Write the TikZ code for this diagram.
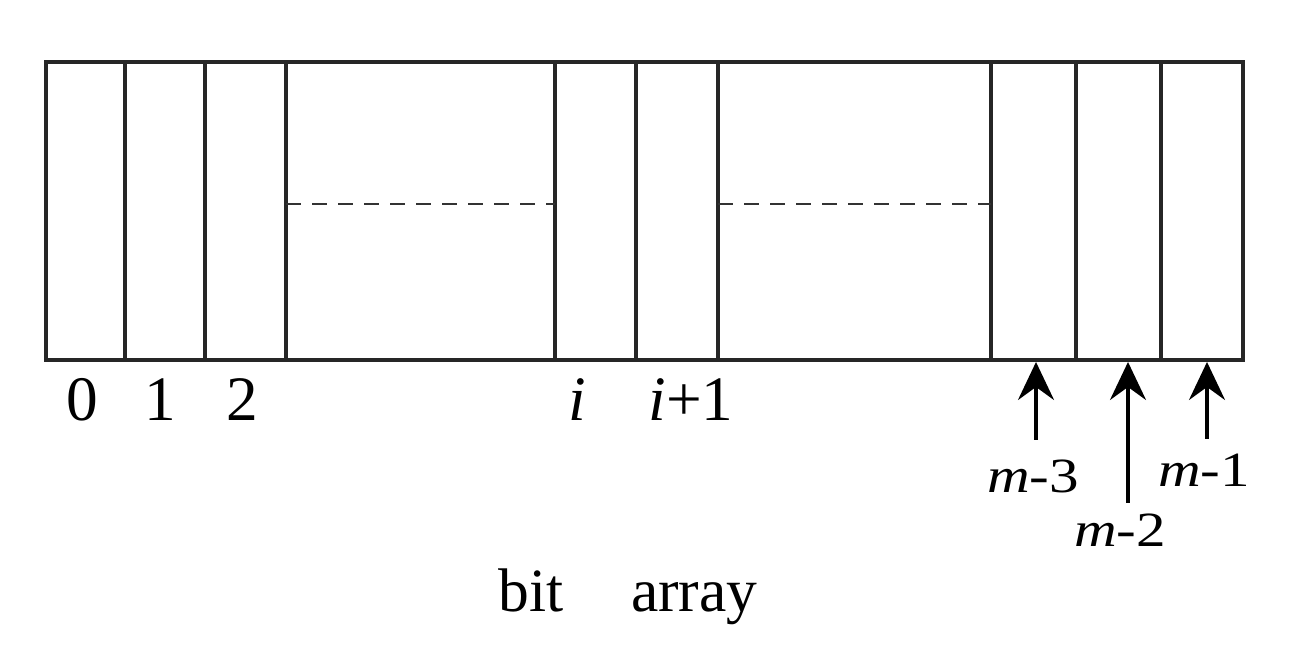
\documentclass[tikz,border=0pt]{standalone}
\usepackage{fontspec}
\setmainfont{Liberation Serif}
\usetikzlibrary{arrows.meta}
\begin{document}
\begin{tikzpicture}[x=0.01cm,y=-0.01cm,
  cellline/.style={line width=0.9pt,draw=black!85},
  dashline/.style={line width=0.7pt,dash pattern=on 4.2pt off 3.2pt,draw=black!80},
  idx/.style={inner sep=0pt,anchor=base,font=\fontsize{18}{21}\selectfont},
  mlbl/.style={inner sep=0pt,anchor=base,font=\fontsize{14}{17}\selectfont},
  ttl/.style={inner sep=0pt,anchor=base,font=\fontsize{17.5}{21}\selectfont},
  arr/.style={line width=0.9pt,-{Stealth[length=3.8mm,width=3.6mm,inset=1.3mm]}}]
\useasboundingbox (0,0) rectangle (1306,662);
% outer frame and cells
\draw[cellline] (46,62) rectangle (1243,360);
\foreach \x in {125,205,286,555,636,718,991,1076,1161}
  \draw[cellline] (\x,62) -- (\x,360);
\draw[dashline] (286,204) -- (555,204);
\draw[dashline] (718,204) -- (991,204);
% index labels
\node[idx] (l0) at (82,421) {0};
\node[idx] (l1) at (160,421) {1};
\node[idx] (l2) at (242,421) {2};
\node[idx] (li) at (577,421) {\textit{i}};
\node[idx] (li1) at (691,421) {\textit{i}+1};
\node[mlbl] (lm3) at (1033,493) {\scalebox{1.2}[1]{\textit{m}-3}};
\node[mlbl] (lm2) at (1120,547) {\scalebox{1.2}[1]{\textit{m}-2}};
\node[mlbl] (lm1) at (1204,487) {\scalebox{1.2}[1]{\textit{m}-1}};
\node[ttl] (title) at (628,612) {bit\hspace{1.1em}array};
% arrows
\coordinate (h3) at (1036,362);
\coordinate (h2) at (1128,362);
\coordinate (h1) at (1207,362);
\coordinate (t3) at (1036,440);
\coordinate (t2) at (1128,503);
\coordinate (t1) at (1207,439);
\draw[arr] (t3) -- (h3);
\draw[arr] (t2) -- (h2);
\draw[arr] (t1) -- (h1);
\end{tikzpicture}
\end{document}
